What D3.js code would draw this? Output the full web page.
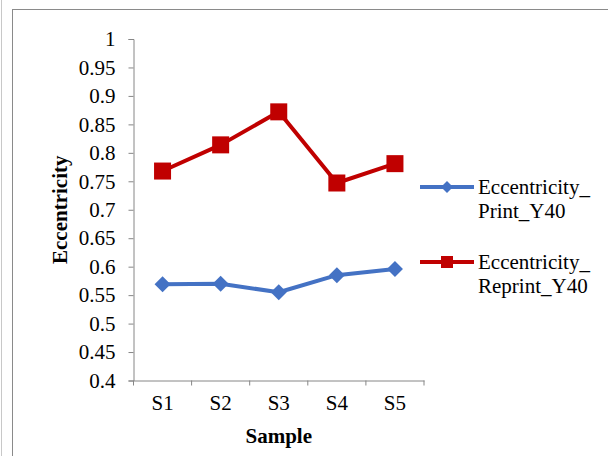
<!DOCTYPE html>
<html>
<head>
<meta charset="utf-8">
<script src="https://cdn.jsdelivr.net/npm/d3@7"></script>
<style>
  html, body { margin: 0; padding: 0; background: #fff; }
  svg { display: block; }
  text { font-family: "Liberation Serif", "Times New Roman", serif; fill: #000; }
</style>
</head>
<body>
<svg id="chart" width="608" height="456"></svg>
<script>
// Sample labels and eccentricity per sample
const samples = ["S1", "S2", "S3", "S4", "S5"];
const printY40 = [0.569, 0.570, 0.555, 0.585, 0.596];
const reprintY40 = [0.768, 0.814, 0.872, 0.747, 0.781];
const yTicks = [0.4, 0.45, 0.5, 0.55, 0.6, 0.65, 0.7, 0.75, 0.8, 0.85, 0.9, 0.95, 1];
const seriesNames = [["Eccentricity_", "Print_Y40"], ["Eccentricity_", "Reprint_Y40"]];

const svg = d3.select("#chart");
const W = 608, H = 456;

// outer frames
svg.append("line").attr("x1", 1.5).attr("x2", 1.5).attr("y1", 0).attr("y2", H)
  .attr("stroke", "#c8c8c8").attr("stroke-width", 1);
svg.append("rect").attr("x", 12.5).attr("y", 9.5).attr("width", W).attr("height", H)
  .attr("fill", "none").attr("stroke", "#8a8a8a").attr("stroke-width", 1);

const plot = { left: 133.5, right: 424, top: 39, bottom: 380.5 };

const x = d3.scaleBand().domain(samples).range([plot.left, plot.right]);
const y = d3.scaleLinear().domain([0.4, 1]).range([plot.bottom, plot.top]);

const axisColor = "#868686";

// y axis
const yAxis = svg.append("g").attr("transform", `translate(${plot.left},0)`)
  .call(d3.axisLeft(y).tickValues(yTicks).tickSize(5).tickPadding(13)
    .tickFormat(d => String(+d.toFixed(2))));
yAxis.select(".domain").attr("stroke", axisColor);
yAxis.selectAll(".tick line").attr("stroke", axisColor);
yAxis.selectAll(".tick text").attr("font-size", 21).attr("font-family", "Liberation Serif").attr("fill", "#000");

// x axis with ticks at band boundaries
const xAxis = svg.append("g").attr("transform", `translate(0,${plot.bottom})`)
  .call(d3.axisBottom(x).tickSize(0).tickPadding(15));
xAxis.select(".domain").attr("stroke", axisColor);
xAxis.selectAll(".tick text").attr("font-size", 21).attr("font-family", "Liberation Serif").attr("fill", "#000");
const bounds = samples.map(s => x(s)).concat([x(samples[samples.length - 1]) + x.bandwidth()]);
xAxis.selectAll(".bound").data(bounds).join("line").attr("class", "bound")
  .attr("x1", d => d).attr("x2", d => d).attr("y1", 0).attr("y2", 5)
  .attr("stroke", axisColor);

// axis titles
svg.append("text").attr("x", x.range()[0] + (x.range()[1] - x.range()[0]) / 2).attr("y", 443)
  .attr("text-anchor", "middle").attr("font-size", 21).attr("font-weight", "bold").text("Sample");
svg.append("text").attr("transform", `translate(67,${(plot.top + plot.bottom) / 2}) rotate(-90)`)
  .attr("text-anchor", "middle").attr("font-size", 21).attr("font-weight", "bold").text("Eccentricity");

const cx = s => x(s) + x.bandwidth() / 2;
const line = d3.line().x((d, i) => cx(samples[i])).y(d => y(d));

const blue = "#4472C4", red = "#C00000";

// Print series
svg.append("path").datum(printY40).attr("d", line).attr("fill", "none")
  .attr("stroke", blue).attr("stroke-width", 4).attr("stroke-linejoin", "round");
svg.selectAll(".diamond").data(printY40).join("path").attr("class", "diamond")
  .attr("transform", (d, i) => `translate(${cx(samples[i])},${y(d)})`)
  .attr("d", "M0,-8L8,0L0,8L-8,0Z").attr("fill", blue);

// Reprint series
svg.append("path").datum(reprintY40).attr("d", line).attr("fill", "none")
  .attr("stroke", red).attr("stroke-width", 4).attr("stroke-linejoin", "round");
svg.selectAll(".square").data(reprintY40).join("rect").attr("class", "square")
  .attr("x", (d, i) => cx(samples[i]) - 8.5).attr("y", d => y(d) - 8.5)
  .attr("width", 17).attr("height", 17).attr("fill", red);

// legend
const legend = [
  { color: blue, ly: 187, names: seriesNames[0], marker: "diamond" },
  { color: red, ly: 262, names: seriesNames[1], marker: "square" }
];
legend.forEach(l => {
  const g = svg.append("g");
  g.append("line").attr("x1", 420).attr("x2", 474).attr("y1", l.ly).attr("y2", l.ly)
    .attr("stroke", l.color).attr("stroke-width", 4);
  if (l.marker === "diamond") {
    g.append("path").attr("transform", `translate(447,${l.ly})`).attr("d", "M0,-6L6,0L0,6L-6,0Z").attr("fill", l.color);
  } else {
    g.append("rect").attr("x", 441).attr("y", l.ly - 6).attr("width", 12).attr("height", 12).attr("fill", l.color);
  }
  g.append("text").attr("x", 478).attr("y", l.ly + 7).attr("font-size", 21).text(l.names[0]);
  g.append("text").attr("x", 478).attr("y", l.ly + 31).attr("font-size", 21).text(l.names[1]);
});
</script>
</body>
</html>
